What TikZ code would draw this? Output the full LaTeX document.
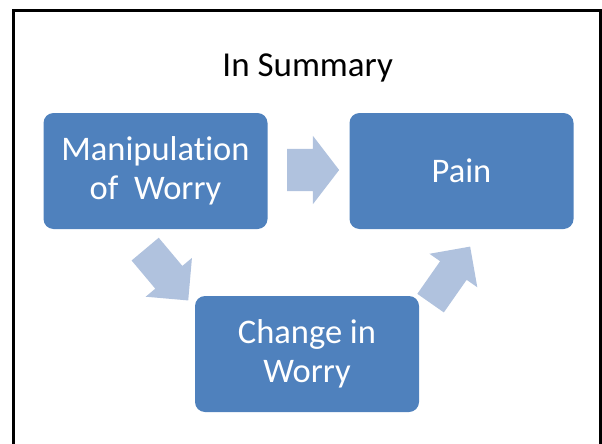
\documentclass[tikz,border=0pt]{standalone}
\usepackage{fontspec}
\setmainfont{Carlito}[RawFeature=-liga]
\usetikzlibrary{shapes.arrows}
\definecolor{boxblue}{RGB}{79,129,189}
\definecolor{arrowblue}{RGB}{176,194,222}
\tikzset{
  box/.style={fill=boxblue, rounded corners=10pt, minimum width=224pt,
    minimum height=116pt, text=white, align=center,
    font=\fontsize{34.5}{39}\selectfont},
  flow/.style={single arrow, fill=arrowblue, inner xsep=0pt, outer sep=0pt}
}
\begin{document}
\begin{tikzpicture}[x=1pt,y=-1pt]
      \useasboundingbox (0,0) rectangle (602,444);
      \draw[line width=3pt] (13.5,444) -- (13.5,10.5) -- (600.5,10.5) -- (600.5,444);
      \draw
        (307.7,76.7) node[anchor=base, font=\fontsize{35}{42}\selectfont] (title){In Summary}
        (155.5,171) node[box] (manip){Manipulation\\of\ \ Worry}
        (461.5,171) node[box] (pain){Pain}
        (307,354) node[box] (change){Change in\\Worry};
      \begin{scope}[every node/.style=flow]
        \node[inner ysep=21pt, single arrow head extend=13pt,
          single arrow tip angle=105, minimum height=52pt] (manip2pain) at (305,170) {};
        \node[inner ysep=17.5pt, single arrow head extend=12.5pt,
          minimum height=67pt, rotate=-50] (manip2change) at (161,268) {};
        \node[inner ysep=16pt, single arrow head extend=13pt,
          minimum height=69pt, rotate=55] (change2pain) at (445.7,281.5) {};
      \end{scope}
    \end{tikzpicture}
\end{document}
